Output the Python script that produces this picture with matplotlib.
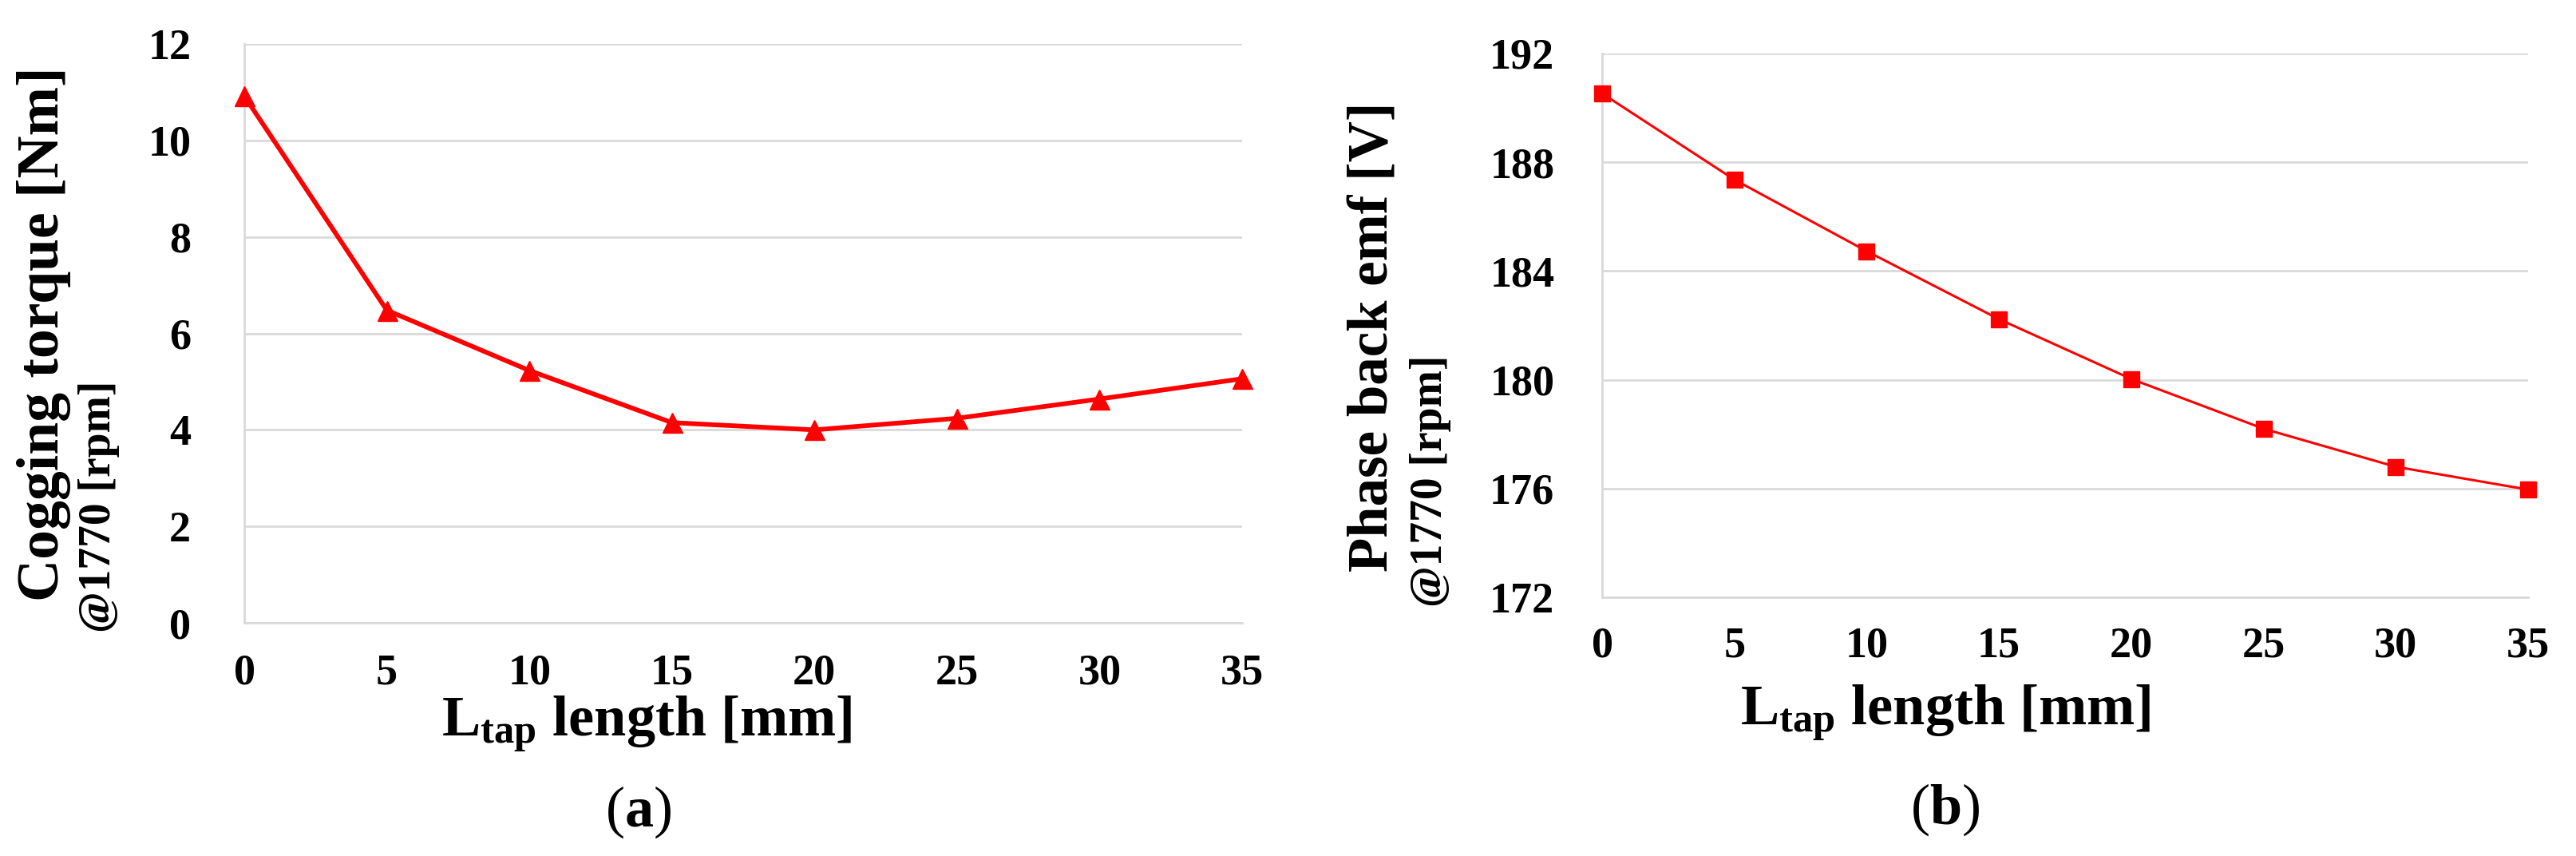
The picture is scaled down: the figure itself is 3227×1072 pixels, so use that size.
import matplotlib
matplotlib.use("Agg")
import matplotlib.pyplot as plt

# data
length_mm = [0, 5, 10, 15, 20, 25, 30, 35]
cogging_nm = [10.92, 6.48, 5.23, 4.15, 4.00, 4.24, 4.64, 5.06]
backemf_v = [190.53, 187.36, 184.73, 182.23, 180.03, 178.20, 176.80, 175.96]
cog_ticks = [0, 2, 4, 6, 8, 10, 12]
emf_ticks = [172, 176, 180, 184, 188, 192]

plt.rcParams['font.family'] = ['Liberation Serif', 'DejaVu Serif']
plt.rcParams['font.weight'] = 'bold'
plt.rcParams['mathtext.fontset'] = 'custom'
plt.rcParams['mathtext.rm'] = 'Liberation Serif'
plt.rcParams['mathtext.bf'] = 'Liberation Serif:bold'
plt.rcParams['mathtext.it'] = 'Liberation Serif:italic'

W, H = 3227, 1072
fig = plt.figure(figsize=(W / 100, H / 100), dpi=100)

grid_c = '#d9d9d9'
red = '#ff0000'


def style_axes(ax, xpad, ypad):
    for s in ['top', 'right']:
        ax.spines[s].set_visible(False)
    for s in ['left', 'bottom']:
        ax.spines[s].set_color(grid_c)
        ax.spines[s].set_linewidth(2)
    ax.grid(axis='y', color=grid_c, linewidth=2)
    ax.set_axisbelow(True)
    ax.tick_params(axis='both', length=0, labelsize=39)
    ax.tick_params(axis='x', pad=xpad)
    ax.tick_params(axis='y', pad=ypad)
    for lab in ax.get_xticklabels() + ax.get_yticklabels():
        lab.set_fontweight('bold')


def fx(px):
    return px / W


def fy(py):
    return 1 - py / H


# (a) cogging torque
ax1 = fig.add_axes([fx(306), fy(780), fx(1556 - 306), (780 - 55) / H])
ax1.plot(length_mm, cogging_nm, color=red, linewidth=4.2, marker='^',
         markersize=18, clip_on=False, zorder=3)
ax1.set_xlim(0, 35)
ax1.set_ylim(0, 12)
ax1.set_xticks(length_mm)
ax1.set_yticks(cog_ticks)
style_axes(ax1, 28, 48)

fig.text(fx(55), fy(418), 'Cogging torque [Nm]', rotation=90, fontsize=53,
         fontweight='bold', ha='center', va='center')
fig.text(fx(124), fy(634), '@1770 [rpm]', rotation=90, fontsize=40,
         fontweight='bold', ha='center', va='center')
fig.text(fx(810), fy(907), r'L$_{\mathbf{tap}}$ length [mm]', fontsize=52,
         fontweight='bold', ha='center', va='center')
fig.text(fx(800), fy(1017), r'($\mathbf{a}$)', fontsize=52, ha='center',
         va='center', fontweight='normal')

# (b) phase back emf
ax2 = fig.add_axes([fx(2007), fy(748), fx(3167 - 2007), (748 - 67) / H])
ax2.plot(length_mm, backemf_v, color=red, linewidth=2.2, marker='s',
         markersize=15, clip_on=False, zorder=3)
ax2.set_xlim(0, 35)
ax2.set_ylim(172, 192)
ax2.set_xticks(length_mm)
ax2.set_yticks(emf_ticks)
style_axes(ax2, 26, 43)

fig.text(fx(1721), fy(422), 'Phase back emf [V]', rotation=90, fontsize=51,
         fontweight='bold', ha='center', va='center')
fig.text(fx(1792), fy(602), '@1770 [rpm]', rotation=90, fontsize=40,
         fontweight='bold', ha='center', va='center')
fig.text(fx(2437), fy(893), r'L$_{\mathbf{tap}}$ length [mm]', fontsize=52,
         fontweight='bold', ha='center', va='center')
fig.text(fx(2437), fy(1014), r'($\mathbf{b}$)', fontsize=52, ha='center',
         va='center', fontweight='normal')

fig.savefig('out.png', dpi=100, facecolor='white')
